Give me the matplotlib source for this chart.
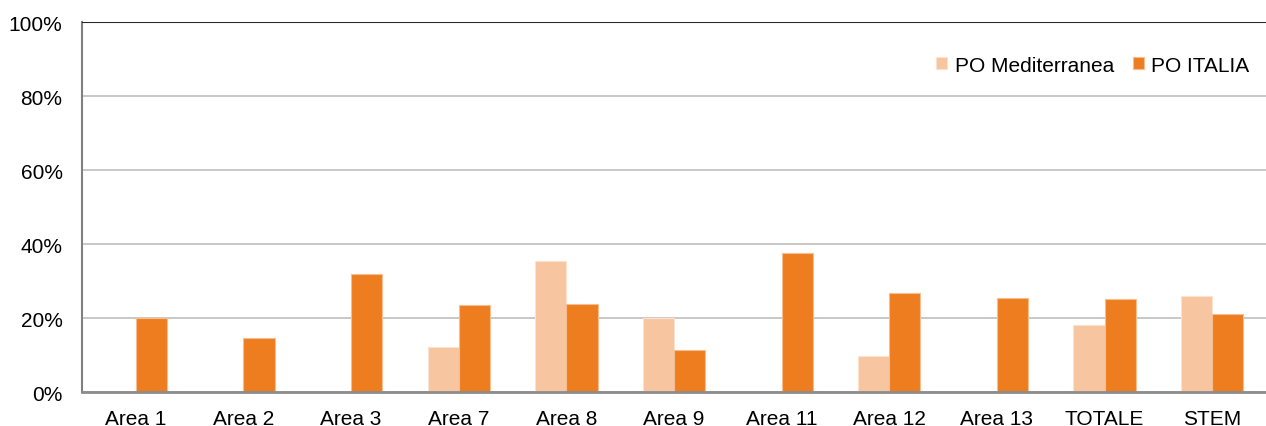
import numpy as np
import matplotlib.pyplot as plt

plt.rcParams['font.family'] = ['Liberation Sans', 'DejaVu Sans']

# categorie e valori (percentuali)
categorie = ['Area 1', 'Area 2', 'Area 3', 'Area 7', 'Area 8', 'Area 9',
             'Area 11', 'Area 12', 'Area 13', 'TOTALE', 'STEM']
po_mediterranea = [0, 0, 0, 12.3, 35.5, 20.0, 0, 9.8, 0, 18.0, 25.9]
po_italia = [20.0, 14.5, 32.0, 23.4, 23.8, 11.3, 37.6, 26.7, 25.3, 25.2, 21.2]

col_med = '#F7C59F'
col_ita = '#EE7D1F'

fig = plt.figure(figsize=(12.66, 4.27), dpi=100)
ax = fig.add_axes([0.0648, 0.0796, 0.9352, 0.8665])

x = np.arange(len(categorie))
w = 0.29
ax.bar(x - w / 2, po_mediterranea, w, color=col_med, edgecolor='#FBE3D0',
       linewidth=0.8, label='PO Mediterranea', zorder=3)
ax.bar(x + w / 2, po_italia, w, color=col_ita, edgecolor='#F6BE8F',
       linewidth=0.8, label='PO ITALIA', zorder=3)

ax.set_xlim(-0.5, len(categorie) - 0.5)
ax.set_ylim(0, 100)
ax.set_yticks(range(0, 101, 20))
ax.set_yticklabels([f'{v}%' for v in range(0, 101, 20)], fontsize=15)
ax.set_xticks(x)
ax.set_xticklabels(categorie, fontsize=15)
ax.tick_params(axis='y', length=0, pad=14)
ax.tick_params(axis='x', length=0, pad=12)

ax.grid(axis='y', color='#BFBFBF', linewidth=1.2, zorder=0)
ax.axhline(100, color='#262626', linewidth=1.5, zorder=4)
for s in ['top', 'right']:
    ax.spines[s].set_visible(False)
ax.spines['left'].set_color('#808080')
ax.spines['left'].set_linewidth(1.5)
ax.spines['bottom'].set_color('#8C8C8C')
ax.spines['bottom'].set_linewidth(2)
ax.spines['bottom'].set_zorder(5)

ax.legend(loc='upper right', bbox_to_anchor=(1.002, 0.96), ncol=2, frameon=False,
          fontsize=15, handlelength=0.55, handleheight=0.55, handletextpad=0.35,
          columnspacing=0.9)

fig.savefig('out.png', dpi=100)
